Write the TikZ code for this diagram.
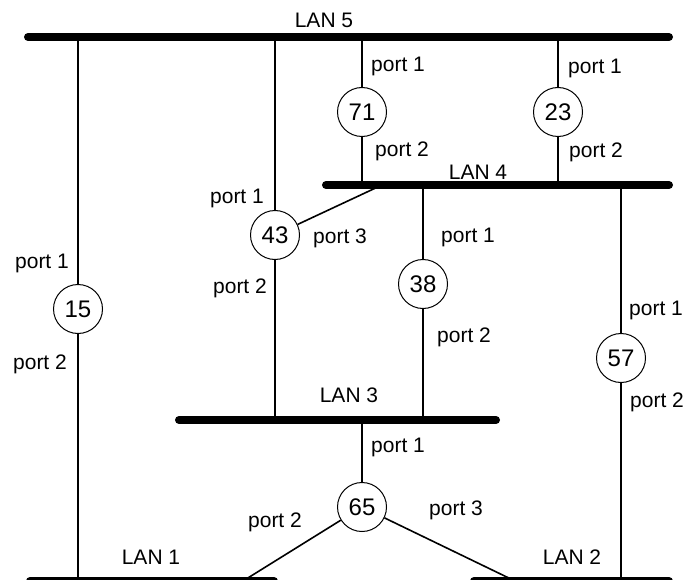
\documentclass[tikz,border=0pt]{standalone}
\usepackage{fontspec}
\setmainfont{Liberation Sans}
\tikzset{
  lan/.style={line width=8pt,line cap=round},
  link/.style={line width=1.6pt},
  brg/.style={circle,draw,line width=1pt,minimum size=49pt,inner sep=0pt,font=\fontsize{24}{28}\selectfont},
  lbl/.style={inner sep=0pt,font=\fontsize{21}{25}\selectfont}
}
\begin{document}
\begin{tikzpicture}[x=1pt,y=-1pt]
\useasboundingbox (0,0) rectangle (687,580);
% LAN segments
\coordinate (l5a) at (28,37);  \coordinate (l5b) at (669,37);
\coordinate (l4a) at (326,185); \coordinate (l4b) at (669,185);
\coordinate (l3a) at (179,420); \coordinate (l3b) at (496,420);
\coordinate (l1a) at (30,581);  \coordinate (l1b) at (274,581);
\coordinate (l2a) at (474,581); \coordinate (l2b) at (669,581);
\foreach \i in {1,2,3,4,5}{\draw[lan] (l\i a)--(l\i b);}
\node[lbl] (n5) at (324,20) {LAN 5};
\node[lbl] (n4) at (478,172) {LAN 4};
\node[lbl] (n3) at (349,395) {LAN 3};
\node[lbl] (n1) at (151,557) {LAN 1};
\node[lbl] (n2) at (572,557) {LAN 2};
% bridges
\node[brg] (b15) at (78,309) {15};
\node[brg] (b71) at (362,112) {71};
\node[brg] (b23) at (558,112) {23};
\node[brg] (b43) at (275,235) {43};
\node[brg] (b38) at (423,284) {38};
\node[brg] (b57) at (621,358) {57};
\node[brg] (b65) at (362,507) {65};
\coordinate (t43) at (382,185);
\coordinate (t65a) at (243,581);
\coordinate (t65b) at (515,581);
% links
\draw[link] (b15)--(b15|-l5a); \draw[link] (b15)--(b15|-l1a);
\draw[link] (b71)--(b71|-l5a); \draw[link] (b71)--(b71|-l4a);
\draw[link] (b23)--(b23|-l5a); \draw[link] (b23)--(b23|-l4a);
\draw[link] (b43)--(b43|-l5a); \draw[link] (b43)--(b43|-l3a); \draw[link] (b43)--(t43);
\draw[link] (b38)--(b38|-l4a); \draw[link] (b38)--(b38|-l3a);
\draw[link] (b57)--(b57|-l4a); \draw[link] (b57)--(b57|-l2a);
\draw[link] (b65)--(b65|-l3a); \draw[link] (b65)--(t65a); \draw[link] (b65)--(t65b);
% port labels
\foreach \n/\x/\y/\t in {p15a/42/263/port 1,p15b/40/364/port 2,
  p71a/398/66/port 1,p71b/402/151/port 2,p23a/595/68/port 1,p23b/596/152/port 2,
  p43a/237/198/port 1,p43b/240/288/port 2,p43c/340/238/port 3,
  p38a/468/237/port 1,p38b/464/337/port 2,p57a/656/310/port 1,p57b/657/402/port 2,
  p65a/398/447/port 1,p65b/275/522/port 2,p65c/456/510/port 3}
  \node[lbl] (\n) at (\x,\y) {\t};
\end{tikzpicture}
\end{document}
